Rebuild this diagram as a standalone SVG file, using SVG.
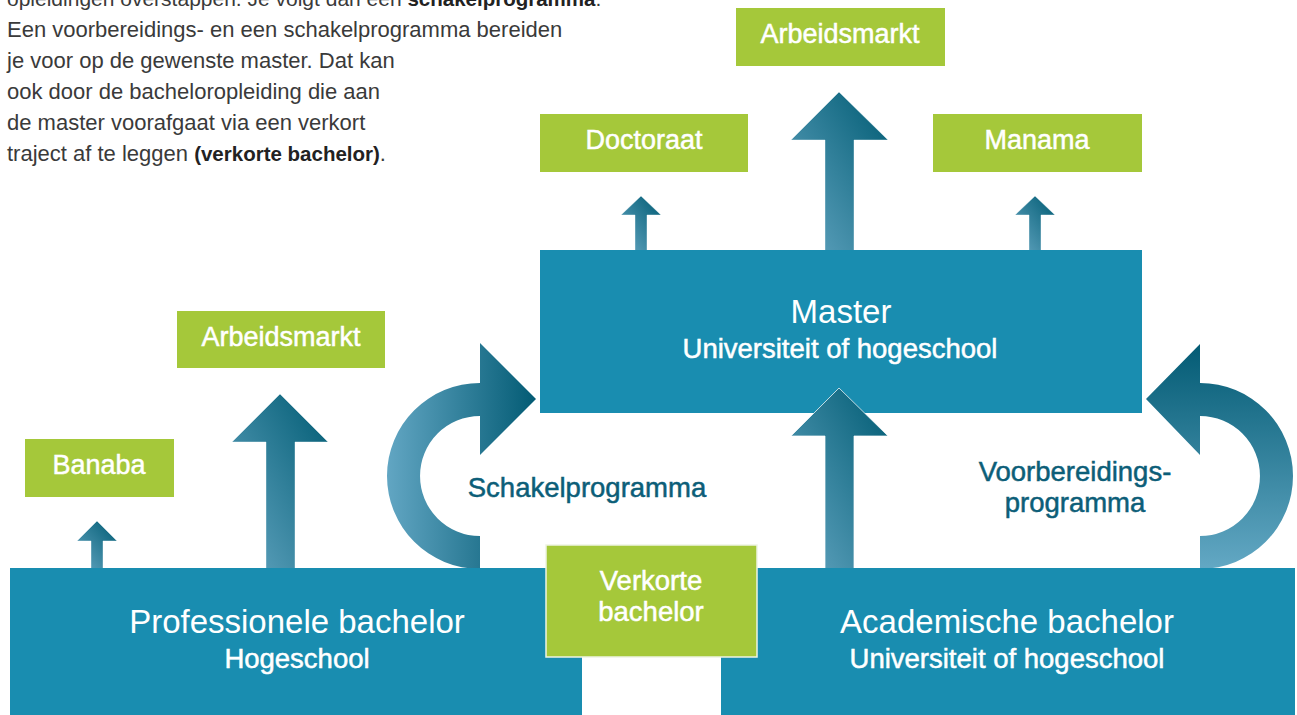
<svg xmlns="http://www.w3.org/2000/svg" width="1297" height="715" viewBox="0 0 1297 715">
<defs>
<linearGradient id="gDiag" x1="0" y1="1" x2="1" y2="0">
<stop offset="0" stop-color="#64a6c2"/>
<stop offset="1" stop-color="#005b73"/>
</linearGradient>
<linearGradient id="gHor" x1="0" y1="0" x2="1" y2="0">
<stop offset="0" stop-color="#62a6c3"/>
<stop offset="1" stop-color="#035b74"/>
</linearGradient>
<linearGradient id="gVer" x1="0" y1="0" x2="0" y2="1">
<stop offset="0" stop-color="#035b74"/>
<stop offset="1" stop-color="#63a8c4"/>
</linearGradient>
<style>
.teal{fill:#198db0}
.green{fill:#a5c83a}
.arr{fill:url(#gDiag);stroke:#ffffff;stroke-opacity:0.5;stroke-width:0.8}
.t{font-family:"Liberation Sans",Arial,sans-serif;text-anchor:middle}
.title{font-size:33px;fill:#ffffff}
.lbl{font-size:27px;fill:#ffffff;stroke:#ffffff;stroke-width:0.5}
.sub{font-size:27.5px;fill:#ffffff;stroke:#ffffff;stroke-width:0.5}
.dark{font-size:27.5px;fill:#0c5e78;stroke:#0c5e78;stroke-width:0.5}
.para{font-family:"Liberation Sans",Arial,sans-serif;font-size:22px;fill:#3a3a3a}
.b{font-weight:bold;fill:#222222;font-size:20.5px}
</style>
</defs>

<g id="intro-text">
<text class="para" x="7" y="6" style="font-size:21px">opleidingen overstappen. Je volgt dan een <tspan class="b">schakelprogramma</tspan>.</text>
<text class="para" x="7" y="37">Een voorbereidings- en een schakelprogramma bereiden</text>
<text class="para" x="7" y="68">je voor op de gewenste master. Dat kan</text>
<text class="para" x="7" y="99">ook door de bacheloropleiding die aan</text>
<text class="para" x="7" y="130">de master voorafgaat via een verkort</text>
<text class="para" x="7" y="161">traject af te leggen <tspan class="b">(verkorte bachelor)</tspan>.</text>
</g>

<g id="connectors">
<path id="arrow-schakel" fill="url(#gHor)" d="M480,383 A93,93 0 0,0 480,569 L480,536 A60,60 0 0,1 480,416 L480,455 L536,399 L480,343 Z"/>
<path id="arrow-voorbereiding" fill="url(#gVer)" d="M1200,383 A93,93 0 0,1 1200,569 L1200,536 A60,60 0 0,0 1200,416 L1200,455 L1146,399 L1200,344 Z"/>
<path id="arrow-banaba" class="arr" d="M97,521 L117,541 L103,541 L103,569 L91,569 L91,541 L77,541 Z"/>
<path id="arrow-arbeid-left" class="arr" d="M280,394 L328,442 L295,442 L295,569 L266,569 L266,442 L232,442 Z"/>
<path id="arrow-doctoraat" class="arr" d="M641,196 L661,215 L647,215 L647,251 L635,251 L635,215 L621,215 Z"/>
<path id="arrow-manama" class="arr" d="M1035,196 L1055,215 L1041,215 L1041,251 L1029,251 L1029,215 L1015,215 Z"/>
<path id="arrow-arbeid-top" class="arr" d="M839,92 L888,140 L854,140 L854,251 L825,251 L825,140 L791,140 Z"/>
</g>

<g id="node-arbeidsmarkt-top">
<rect class="green" x="736" y="8" width="209" height="58"/>
<text class="t lbl" x="840" y="43">Arbeidsmarkt</text>
</g>
<g id="node-doctoraat">
<rect class="green" x="540" y="114" width="208" height="58"/>
<text class="t lbl" x="644" y="149">Doctoraat</text>
</g>
<g id="node-manama">
<rect class="green" x="933" y="114" width="209" height="58"/>
<text class="t lbl" x="1037" y="149">Manama</text>
</g>
<g id="node-master">
<rect class="teal" x="540" y="250" width="602" height="163"/>
<text class="t title" x="841" y="323">Master</text>
<text class="t sub" x="840" y="358">Universiteit of hogeschool</text>
</g>
<g id="node-arbeidsmarkt-left">
<rect class="green" x="177" y="311" width="208" height="57"/>
<text class="t lbl" x="281" y="346">Arbeidsmarkt</text>
</g>
<g id="node-banaba">
<rect class="green" x="25" y="439" width="149" height="58"/>
<text class="t lbl" x="99" y="474">Banaba</text>
</g>
<g id="label-schakelprogramma">
<text class="t dark" x="587" y="497">Schakelprogramma</text>
</g>
<g id="label-voorbereidingsprogramma">
<text class="t dark" x="1075" y="481">Voorbereidings-</text>
<text class="t dark" x="1075" y="512">programma</text>
</g>

<g id="arrow-master-up">
<path class="arr" style="stroke-opacity:0.9" d="M839,388 L888,436 L854,436 L854,569 L825,569 L825,436 L791,436 Z"/>
</g>

<g id="node-professionele-bachelor">
<rect class="teal" x="10" y="568" width="572" height="147"/>
<text class="t title" x="297" y="633">Professionele bachelor</text>
<text class="t sub" x="297" y="668">Hogeschool</text>
</g>
<g id="node-academische-bachelor">
<rect class="teal" x="721" y="568" width="574" height="147"/>
<text class="t title" x="1007" y="633">Academische bachelor</text>
<text class="t sub" x="1007" y="668">Universiteit of hogeschool</text>
</g>
<g id="node-verkorte-bachelor">
<rect class="green" x="546" y="545" width="211" height="112" stroke="#eef4e4" stroke-width="1.5"/>
<text class="t sub" x="651" y="590">Verkorte</text>
<text class="t sub" x="651" y="621">bachelor</text>
</g>
</svg>
